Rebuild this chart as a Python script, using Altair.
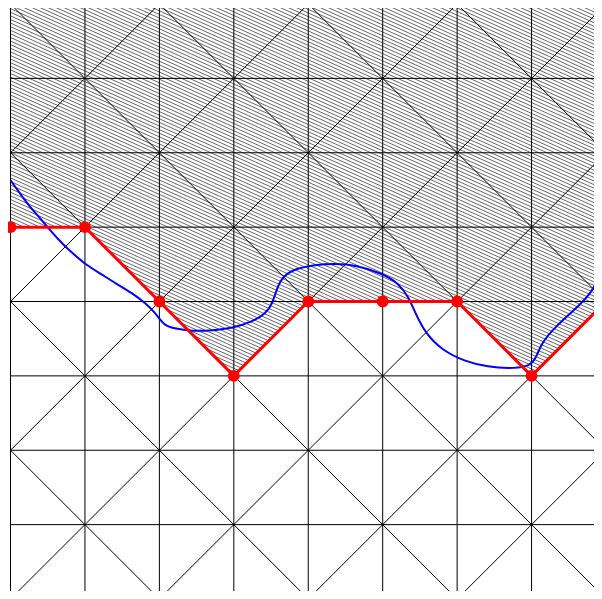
import altair as alt
import pandas as pd
import numpy as np

# grid size (cells)
n_cells = 8

# red boundary polyline
red_x = [0, 1, 2, 3, 4, 5, 6, 7, 8]
red_y = [5, 5, 4, 3, 4, 4, 4, 3, 4]

# blue curve
blue_x = [0.0, 0.13, 0.26, 0.40, 0.53, 0.71, 0.89, 1.02, 1.20, 1.42, 1.64, 1.82,
          1.93, 2.00, 2.07, 2.18, 2.45, 2.71, 2.98, 3.25, 3.43, 3.52, 3.585, 3.67,
          3.83, 4.05, 4.37, 4.64, 4.99, 5.21, 5.35, 5.44, 5.57, 5.79, 6.11, 6.42,
          6.69, 6.95, 7.05, 7.13, 7.32, 7.58, 7.80, 7.91, 8.0]
blue_y = [5.63, 5.45, 5.27, 5.12, 4.96, 4.76, 4.60, 4.49, 4.38, 4.24, 4.11, 3.97,
          3.86, 3.77, 3.68, 3.64, 3.60, 3.61, 3.64, 3.73, 3.84, 3.97, 4.20, 4.35,
          4.44, 4.49, 4.51, 4.49, 4.38, 4.25, 4.06, 3.84, 3.58, 3.35, 3.19, 3.12,
          3.10, 3.12, 3.21, 3.44, 3.66, 3.89, 4.11, 4.33, 4.55]

# ---- grid and diagonal segments ----
segs = []
for i in range(n_cells + 1):
    segs.append((i, 0, i, n_cells))
    segs.append((0, i, n_cells, i))
for s in range(2, 2 * n_cells, 2):
    if s <= n_cells:
        segs.append((0, s, s, 0))
    else:
        segs.append((s - n_cells, n_cells, n_cells, s - n_cells))
for d in range(-n_cells + 2, n_cells, 2):
    segs.append((max(0, d), max(0, -d), min(n_cells, n_cells + d), min(n_cells, n_cells - d)))
grid_df = pd.DataFrame(segs, columns=["x", "y", "x2", "y2"])

# ---- hatch segments for region above red line ----
m = 0.45
step = 0.0484
hatch = []
c = min(red_y)
top = n_cells
while c <= top + m * n_cells + step:
    for i in range(len(red_x) - 1):
        a, b = red_x[i], red_x[i + 1]
        ya, yb = red_y[i], red_y[i + 1]
        lo, hi = a, b
        lo = max(lo, (c - top) / m)
        g0 = c - m * a - ya
        g1 = c - m * b - yb
        if g0 < 0 and g1 < 0:
            continue
        if not (g0 >= 0 and g1 >= 0):
            xr = a + (b - a) * g0 / (g0 - g1)
            if g0 >= 0:
                hi = min(hi, xr)
            else:
                lo = max(lo, xr)
        if hi > lo:
            hatch.append((lo, c - m * lo, hi, c - m * hi))
    c += step
hatch_df = pd.DataFrame(hatch, columns=["x", "y", "x2", "y2"])

W, H = 586, 583
xs = alt.Scale(domain=[0, n_cells], range=[2.5, 598], nice=False, zero=False)
ys = alt.Scale(domain=[0, n_cells], range=[591, -4], nice=False, zero=False)

hatch_layer = alt.Chart(hatch_df).mark_rule(color="#000000", strokeWidth=0.75, opacity=0.8).encode(
    x=alt.X("x:Q", scale=xs, axis=None),
    y=alt.Y("y:Q", scale=ys, axis=None),
    x2="x2:Q",
    y2="y2:Q",
)

grid_layer = alt.Chart(grid_df).mark_rule(color="#000000", strokeWidth=1).encode(
    x=alt.X("x:Q", scale=xs, axis=None),
    y=alt.Y("y:Q", scale=ys, axis=None),
    x2="x2:Q",
    y2="y2:Q",
)

blue_df = pd.DataFrame({"x": blue_x, "y": blue_y})
blue_layer = alt.Chart(blue_df).mark_line(color="#0000ff", strokeWidth=2, interpolate="basis").encode(
    x=alt.X("x:Q", scale=xs, axis=None),
    y=alt.Y("y:Q", scale=ys, axis=None),
)

red_df = pd.DataFrame({"x": red_x, "y": red_y})
red_line = alt.Chart(red_df).mark_line(color="#ff0000", strokeWidth=3).encode(
    x=alt.X("x:Q", scale=xs, axis=None),
    y=alt.Y("y:Q", scale=ys, axis=None),
)
red_pts = alt.Chart(red_df).mark_circle(color="#ff0000", size=140, opacity=1).encode(
    x=alt.X("x:Q", scale=xs, axis=None),
    y=alt.Y("y:Q", scale=ys, axis=None),
)

chart = alt.layer(hatch_layer, grid_layer, blue_layer, red_line, red_pts).properties(
    width=W,
    height=H,
    padding=0,
    autosize=alt.AutoSizeParams(type="none"),
).configure_view(strokeWidth=0)

chart.save("out.html", embed_options={"renderer": "svg", "actions": False})
